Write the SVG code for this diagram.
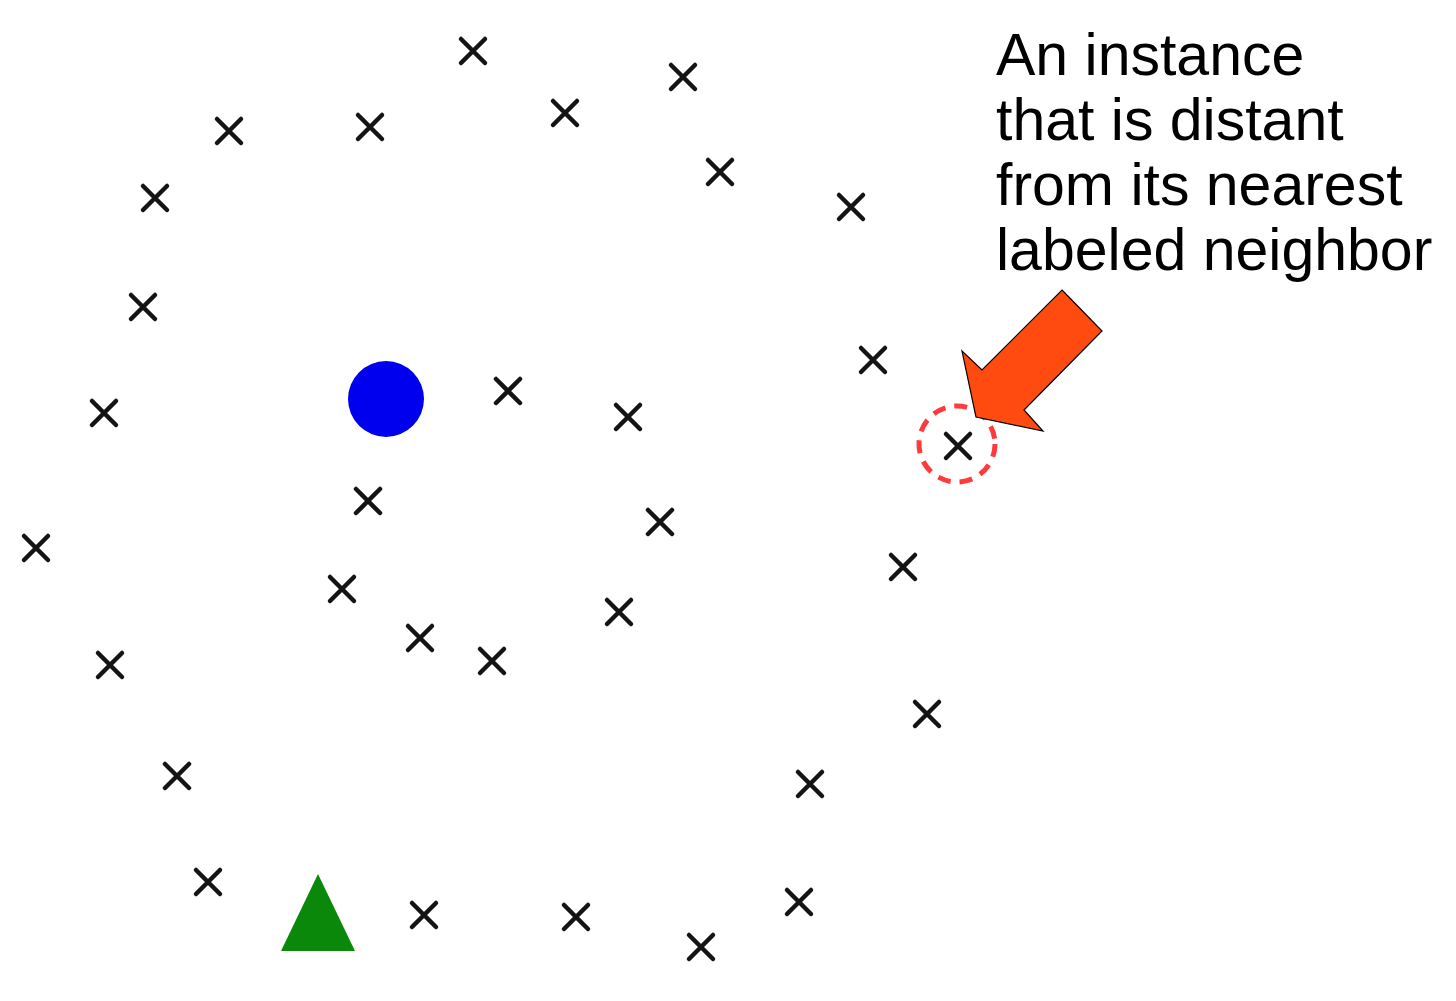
<svg xmlns="http://www.w3.org/2000/svg" width="1456" height="1001" viewBox="0 0 1456 1001">
<defs>
<style>
.x{stroke:#141414;stroke-width:4.5;stroke-linecap:round;fill:none}
.lbl{font-family:"Liberation Sans",Arial,sans-serif;font-size:59px;fill:#000}
</style>
<symbol id="cross" overflow="visible"><path class="x" d="M-12,-12L12,12M12,-12L-12,12"/></symbol>
</defs>
<rect width="1456" height="1001" fill="#fff"/>
<g id="points">
<use href="#cross" x="473" y="51"/>
<use href="#cross" x="683" y="77"/>
<use href="#cross" x="229" y="131"/>
<use href="#cross" x="370" y="127"/>
<use href="#cross" x="565" y="113"/>
<use href="#cross" x="720" y="172"/>
<use href="#cross" x="155" y="198"/>
<use href="#cross" x="851" y="207"/>
<use href="#cross" x="143" y="307"/>
<use href="#cross" x="873" y="360"/>
<use href="#cross" x="104" y="413"/>
<use href="#cross" x="508" y="391"/>
<use href="#cross" x="628" y="417"/>
<use href="#cross" x="368" y="501"/>
<use href="#cross" x="660" y="522"/>
<use href="#cross" x="36" y="548"/>
<use href="#cross" x="903" y="567"/>
<use href="#cross" x="342" y="589"/>
<use href="#cross" x="619" y="612"/>
<use href="#cross" x="420" y="638"/>
<use href="#cross" x="492" y="661"/>
<use href="#cross" x="110" y="665"/>
<use href="#cross" x="927" y="714"/>
<use href="#cross" x="177" y="776"/>
<use href="#cross" x="810" y="784"/>
<use href="#cross" x="208" y="882"/>
<use href="#cross" x="424" y="915"/>
<use href="#cross" x="576" y="917"/>
<use href="#cross" x="799" y="902"/>
<use href="#cross" x="701" y="947"/>
</g>
<g id="outlier">
<use href="#cross" x="958" y="446"/>
<circle cx="957" cy="444" r="38" fill="none" stroke="#ff3a3a" stroke-width="5" stroke-dasharray="13,9"/>
</g>
<g id="labeled-circle"><circle cx="386" cy="399" r="38" fill="#0000ee"/></g>
<g id="labeled-triangle"><polygon points="318,874 355,951 281,951" fill="#0a880a"/></g>
<g id="connectors">
<polygon points="1062,290 1102,331 1024,410 1043,431 976,417 962,351 982,370" fill="#ff4a10" stroke="#000" stroke-width="1.2" stroke-linejoin="miter"/>
</g>
<g id="annotation">
<text class="lbl" x="996" y="75">An instance</text>
<text class="lbl" x="996" y="140">that is distant</text>
<text class="lbl" x="996" y="205">from its nearest</text>
<text class="lbl" x="996" y="270">labeled neighbor</text>
</g>
</svg>
